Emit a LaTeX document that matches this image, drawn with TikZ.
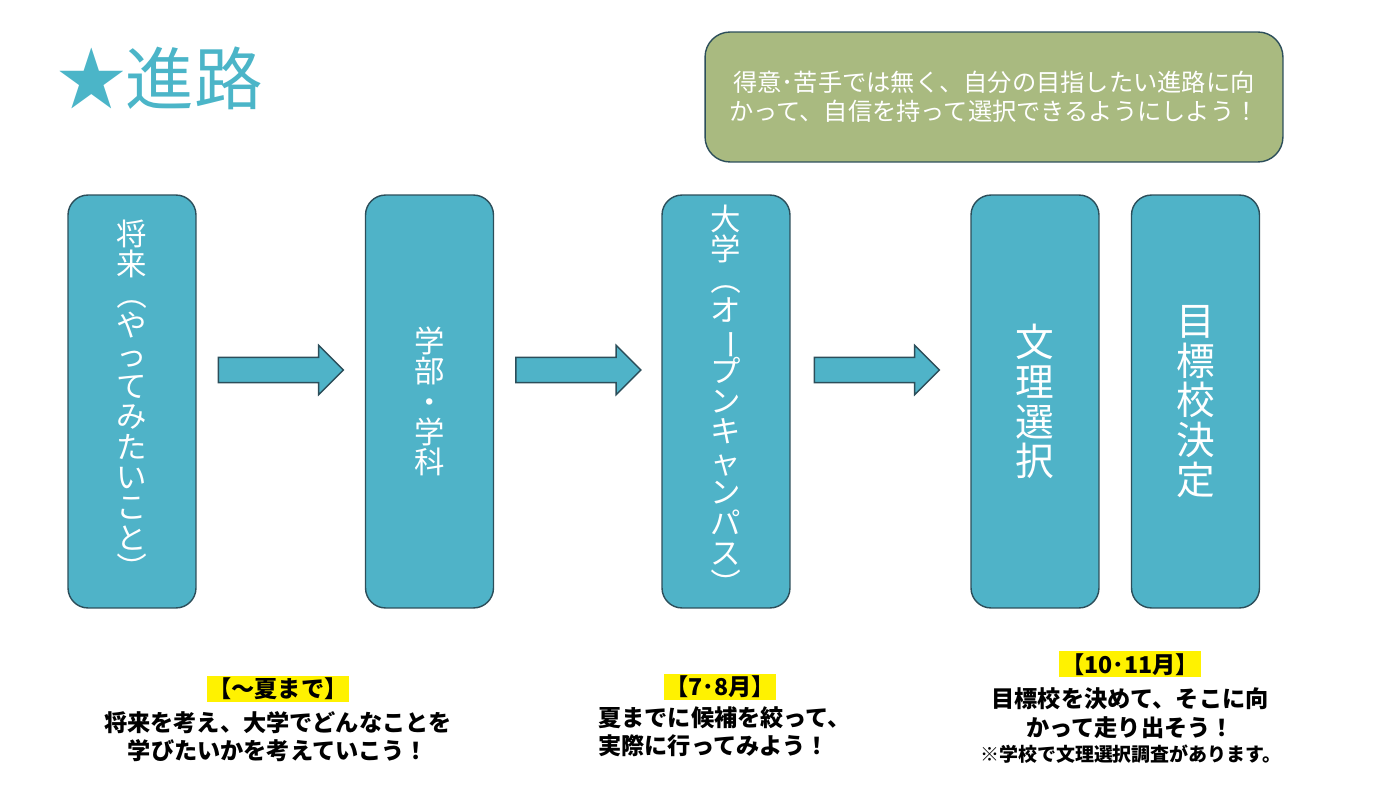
\documentclass[tikz,border=0pt]{standalone}
\usepackage{fontspec}
\usepackage{graphicx}
\usepackage{tikz}
\usetikzlibrary{shapes.arrows,calc}
\newfontfamily\jp{Noto Sans CJK JP}
\definecolor{stagefill}{RGB}{79,179,200}
\definecolor{stageedge}{RGB}{44,78,90}
\definecolor{notegreen}{RGB}{169,186,128}
\definecolor{titleblue}{RGB}{75,181,200}
\setlength{\fboxsep}{1pt}
\setlength{\lineskiplimit}{-10pt}
% vertical forms of bracket and long vowel mark
\newcommand{\vopen}{\rotatebox[origin=c]{-90}{（}}
\newcommand{\vclose}{\rotatebox[origin=c]{-90}{）}}
\newcommand{\vbar}{\rotatebox[origin=c]{-90}{ー}}

\begin{document}
\begin{tikzpicture}[x=0.02cm, y=-0.02cm, every node/.style={font=\jp, inner sep=0pt},
	stage/.style={draw=stageedge, line width=0.8pt, fill=stagefill, rounded corners=0.4cm, minimum width=2.56cm, minimum height=8.26cm, text=white, align=center, font=\jp\fontsize{17.3}{17.3}\selectfont},
	bigstage/.style={stage, font=\jp\fontsize{22}{22.6}\selectfont},
	flow/.style={single arrow, draw=stageedge, line width=0.8pt, fill=stagefill, inner xsep=0pt, inner ysep=0.24cm, minimum height=2.5cm, minimum width=0.96cm, single arrow head extend=0.24cm, anchor=tail},
	when/.style={align=center, font=\jp\bfseries\fontsize{13.2}{16}\selectfont}]
	\useasboundingbox (0,0) rectangle (1387,787);
	\node[anchor=west, text=titleblue, font=\jp\fontsize{39}{39}\selectfont] (title) at (57,78) {★進路};
	\node[draw=stageedge, line width=0.8pt, fill=notegreen, rounded corners=0.5cm, minimum width=11.56cm, minimum height=2.6cm, text=white, align=center, font=\jp\fontsize{13.8}{16.4}\selectfont] (advice) at (994,97) {得意･苦手では無く、自分の目指したい進路に向\\かって、自信を持って選択できるようにしよう！};
	\node[stage] (future) at (132,401.5) {将\\来\\\vopen\\や\\っ\\て\\み\\た\\い\\こ\\と\\\vclose};
	\node[stage] (faculty) at (429.5,401.5) {学\\部\\・\\学\\科};
	\node[stage] (campus) at (726,401.5) {大\\学\\\vopen\\オ\\\vbar\\プ\\ン\\キ\\ャ\\ン\\パ\\ス\\\vclose};
	\node[bigstage] (course) at (1035,401.5) {文\\理\\選\\択};
	\node[bigstage] (target) at (1195.5,401.5) {目\\標\\校\\決\\定};
	\node[flow] (a1) at ($(future.east)+(21,-31.5)$) {};
	\node[flow] (a2) at ($(faculty.east)+(21,-31.5)$) {};
	\node[flow] (a3) at ($(campus.east)+(23,-31.5)$) {};
	\node[when] (summer) at (278,719) {\colorbox{yellow}{【～夏まで】}\\[3pt]将来を考え、大学でどんなことを\\学びたいかを考えていこう！};
	\node[when] (julaug) at (720,687) {\colorbox{yellow}{【7･8月】}};
	\node[when, align=left, anchor=west] (visit) at (598,732) {夏までに候補を絞って、\\実際に行ってみよう！};
	\node[when, font=\jp\bfseries\fontsize{13.2}{16.5}\selectfont] (octnov) at (1130,695) {\colorbox{yellow}{【10･11月】}\\[3pt]目標校を決めて、そこに向\\かって走り出そう！};
	\node[font=\jp\bfseries\fontsize{10.8}{12}\selectfont] (survey) at (1131,754) {※学校で文理選択調査があります。};
\end{tikzpicture}
\end{document}
